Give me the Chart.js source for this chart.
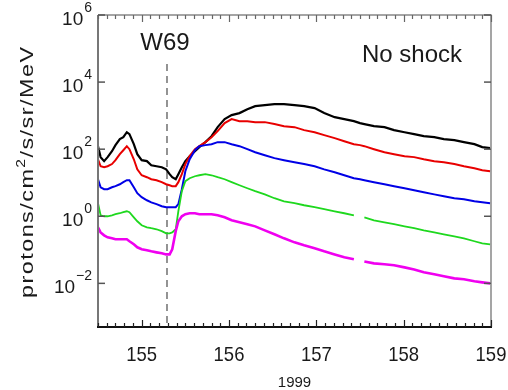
<!DOCTYPE html>
<html>
<head>
<meta charset="utf-8">
<script src="https://cdn.jsdelivr.net/npm/chart.js@4"></script>
<style>
  html, body { margin: 0; padding: 0; background: #fff; }
  #wrap { width: 508px; height: 390px; }
</style>
</head>
<body>
<div id="wrap"><canvas id="fluxChart" width="508" height="390"></canvas></div>
<script>
// day of year 1999
const days = [154.50, 154.53, 154.57, 154.61, 154.66, 154.70, 154.75, 154.79, 154.83, 154.86,
  154.91, 154.95, 155.00, 155.06, 155.11, 155.17, 155.23, 155.28, 155.32, 155.35,
  155.39, 155.42, 155.46, 155.50, 155.55, 155.61, 155.66, 155.73, 155.80, 155.87,
  155.95, 156.03, 156.12, 156.21, 156.30, 156.41, 156.52, 156.63, 156.75, 156.86,
  156.98, 157.09, 157.21, 157.32, 157.43, 157.50, 157.55, 157.66, 157.78, 157.89,
  158.01, 158.12, 158.23, 158.35, 158.46, 158.58, 158.69, 158.81, 158.90, 158.99];

// proton intensities per energy channel (protons/cm2/s/sr/MeV)
const chBlack = [123, 58, 44, 58, 87, 132, 199, 228, 320, 280,
  141, 71, 47, 44, 33, 31, 29, 25, 18, 14.6,
  12.7, 18, 29, 44, 62, 87, 115, 162, 244, 454,
  790, 1035, 1190, 1560, 1920, 2060, 2200, 2200, 2060, 1920,
  1675, 1190, 900, 790, 685, 597, 560, 485, 454, 369,
  320, 280, 244, 228, 199, 186, 162, 141, 115, 107];
const chRed = [50, 31, 29, 31, 36, 47, 71, 93, 123, 100,
  50, 25, 16.7, 14.6, 12.7, 11.9, 10.4, 9.0, 8.4, 7.9,
  7.9, 10.4, 18, 36, 62, 100, 123, 162, 228, 344,
  597, 790, 685, 685, 640, 640, 560, 485, 454, 370,
  320, 262, 213, 173, 141, 132, 123, 100, 81, 71,
  62, 58, 50, 44, 41, 36, 31, 27, 23.6, 22];
const chBlue = [12.7, 7.3, 6.4, 6.4, 7.3, 7.9, 9.0, 10.4, 11.9, 11.9,
  7.3, 4.86, 3.7, 3.0, 2.6, 2.3, 2.0, 1.86, 1.86, 1.86,
  1.86, 2.3, 6.4, 22, 50, 93, 123, 132, 141, 162,
  162, 141, 123, 100, 81, 66, 54, 47, 41, 36,
  31, 25, 20.6, 16.7, 13.6, 12.7, 11.9, 10.4, 9.0, 7.9,
  6.85, 5.97, 5.2, 4.5, 3.95, 3.45, 3.2, 2.8, 2.6, 2.44];
const chGreen = [2.45, 1.07, 1.0, 1.0, 1.07, 1.15, 1.23, 1.32, 1.41, 1.32,
  0.93, 0.71, 0.54, 0.47, 0.44, 0.41, 0.36, 0.31, 0.31, 0.33,
  0.41, 1.41, 5.6, 11.1, 13.6, 15.6, 16.7, 18, 16.7, 14.6,
  12.7, 10.4, 8.4, 6.85, 5.6, 4.5, 3.45, 2.8, 2.45, 2.13,
  1.86, 1.62, 1.41, 1.23, 1.07, null, 0.93, 0.76, 0.66, 0.58,
  0.50, 0.44, 0.38, 0.33, 0.29, 0.25, 0.22, 0.18, 0.156, 0.146];
const chMagenta = [0.47, 0.33, 0.27, 0.236, 0.22, 0.206, 0.206, 0.206, 0.206, 0.18,
  0.146, 0.119, 0.104, 0.097, 0.090, 0.084, 0.079, 0.073, 0.073, 0.104,
  0.36, 0.71, 1.0, 1.15, 1.23, 1.23, 1.15, 1.15, 1.15, 1.07,
  0.93, 0.76, 0.66, 0.58, 0.50, 0.38, 0.29, 0.22, 0.167, 0.136,
  0.111, 0.090, 0.073, 0.060, 0.052, null, 0.045, 0.0395, 0.037, 0.0345,
  0.030, 0.026, 0.0213, 0.0186, 0.0162, 0.0141, 0.0132, 0.0115, 0.0107, 0.0100];

const xTickDays = [155, 156, 157, 158, 159];
const yTickExps = [-2, 0, 2, 4, 6];
const shockDay = 155.29;
const shockLabel = 'W69';
const noteText = 'No shock';
const xTitle = '1999';
const yTitleParts = ['protons/cm', '2', '/s/sr/MeV'];

const FONT = '"Liberation Sans", Arial, sans-serif';

const series = [
  { data: chBlack, color: '#000000', width: 2.2 },
  { data: chRed, color: '#e80000', width: 2 },
  { data: chBlue, color: '#0000e6', width: 2 },
  { data: chGreen, color: '#1ed81e', width: 1.8 },
  { data: chMagenta, color: '#f000f0', width: 2.6 }
];

const decorations = {
  id: 'decorations',
  beforeDatasetsDraw(chart) {
    const { ctx, chartArea: a, scales: { x } } = chart;
    const sx = x.getPixelForValue(shockDay);
    ctx.save();
    ctx.strokeStyle = '#707070';
    ctx.lineWidth = 1.5;
    ctx.setLineDash([7, 5]);
    ctx.beginPath();
    ctx.moveTo(sx, 64);
    ctx.lineTo(sx, a.bottom);
    ctx.stroke();
    ctx.restore();
  },
  afterDatasetsDraw(chart) {
    const { ctx, chartArea: a, scales: { x, y } } = chart;
    ctx.save();

    // frame
    ctx.lineWidth = 1.5;
    ctx.strokeStyle = '#888';
    ctx.beginPath();
    ctx.moveTo(a.left, a.top); ctx.lineTo(a.right, a.top); ctx.lineTo(a.right, a.bottom);
    ctx.stroke();
    ctx.lineWidth = 2;
    ctx.strokeStyle = '#777';
    ctx.beginPath();
    ctx.moveTo(a.left, a.top); ctx.lineTo(a.left, a.bottom);
    ctx.stroke();
    ctx.strokeStyle = '#111';
    ctx.beginPath();
    ctx.moveTo(a.left - 1, a.bottom); ctx.lineTo(a.right + 1, a.bottom);
    ctx.stroke();

    // x ticks, tenths of a day, inward
    ctx.lineWidth = 1.2;
    for (let i = 1545; i <= 1590; i++) {
      const px = Math.round(x.getPixelForValue(i / 10)) + 0.5;
      const len = i % 10 === 0 ? 7 : 4;
      ctx.strokeStyle = '#222';
      ctx.beginPath(); ctx.moveTo(px, a.bottom); ctx.lineTo(px, a.bottom - len); ctx.stroke();
      ctx.strokeStyle = '#666';
      ctx.beginPath(); ctx.moveTo(px, a.top); ctx.lineTo(px, a.top + len); ctx.stroke();
    }

    // y ticks
    ctx.strokeStyle = '#555';
    ctx.lineWidth = 1.5;
    yTickExps.forEach(e => {
      const py = y.getPixelForValue(Math.pow(10, e));
      ctx.beginPath(); ctx.moveTo(a.left, py); ctx.lineTo(a.left + 7, py); ctx.stroke();
      ctx.beginPath(); ctx.moveTo(a.right, py); ctx.lineTo(a.right - 7, py); ctx.stroke();
    });

    ctx.fillStyle = '#1a1a1a';

    // x tick labels
    ctx.textAlign = 'center';
    ctx.textBaseline = 'alphabetic';
    xTickDays.forEach(d => {
      const px = x.getPixelForValue(d);
      ctx.save();
      ctx.translate(px, 361);
      ctx.scale(0.88, 1);
      ctx.font = '21px ' + FONT;
      ctx.fillText(String(d), 0, 0);
      ctx.restore();
    });

    // y tick labels: 10 with superscript exponent
    yTickExps.forEach(e => {
      const py = y.getPixelForValue(Math.pow(10, e));
      const exp = e < 0 ? '\u2212' + Math.abs(e) : String(e);
      ctx.font = '14px ' + FONT;
      const ew = ctx.measureText(exp).width;
      ctx.textAlign = 'left';
      ctx.fillText(exp, 92 - ew, py - 3);
      ctx.font = '19px ' + FONT;
      ctx.textAlign = 'right';
      ctx.fillText('10', 91 - ew, py + 10);
    });

    // annotations
    ctx.font = '24px ' + FONT;
    ctx.textAlign = 'center';
    ctx.fillText(shockLabel, x.getPixelForValue(shockDay) - 2, 50);
    ctx.textAlign = 'left';
    ctx.fillText(noteText, 362, 62);

    // x title
    ctx.font = '15px ' + FONT;
    ctx.textAlign = 'center';
    ctx.fillText(xTitle, (a.left + a.right) / 2, 387);

    // y title, rotated, glyphs widened and spread along the axis
    ctx.translate(33, 172.5);
    ctx.rotate(-Math.PI / 2);
    ctx.textAlign = 'left';
    const stretch = 1.3;
    const chars = [];
    yTitleParts.forEach((t, k) => {
      for (const ch of t) chars.push({ ch, size: k === 1 ? 12 : 18, raise: k === 1 ? -8 : 0 });
    });
    const widths = chars.map(c => { ctx.font = c.size + 'px ' + FONT; return ctx.measureText(c.ch).width * stretch; });
    const total = 251;
    const natural = widths.reduce((s, w) => s + w, 0);
    const gap = (total - natural) / (chars.length - 1);
    let pos = -total / 2;
    chars.forEach((c, i) => {
      ctx.font = c.size + 'px ' + FONT;
      ctx.save();
      ctx.translate(pos, c.raise);
      ctx.scale(stretch, 1);
      ctx.fillText(c.ch, 0, 0);
      ctx.restore();
      pos += widths[i] + gap;
    });

    ctx.restore();
  }
};

new Chart(document.getElementById('fluxChart'), {
  type: 'line',
  data: {
    datasets: series.map((s, i) => ({
      data: days.map((d, j) => ({ x: d, y: s.data[j] })),
      borderColor: s.color,
      borderWidth: s.width,
      pointRadius: 0,
      fill: false,
      tension: 0,
      order: series.length - i
    }))
  },
  options: {
    responsive: false,
    animation: false,
    layout: { padding: { left: 98, right: 17, top: 15, bottom: 63 } },
    scales: {
      x: { type: 'linear', min: 154.5, max: 159, display: false },
      y: { type: 'logarithmic', min: 5e-4, max: 1e6, display: false }
    },
    plugins: {
      legend: { display: false },
      tooltip: { enabled: false }
    }
  },
  plugins: [decorations]
});
</script>
</body>
</html>
